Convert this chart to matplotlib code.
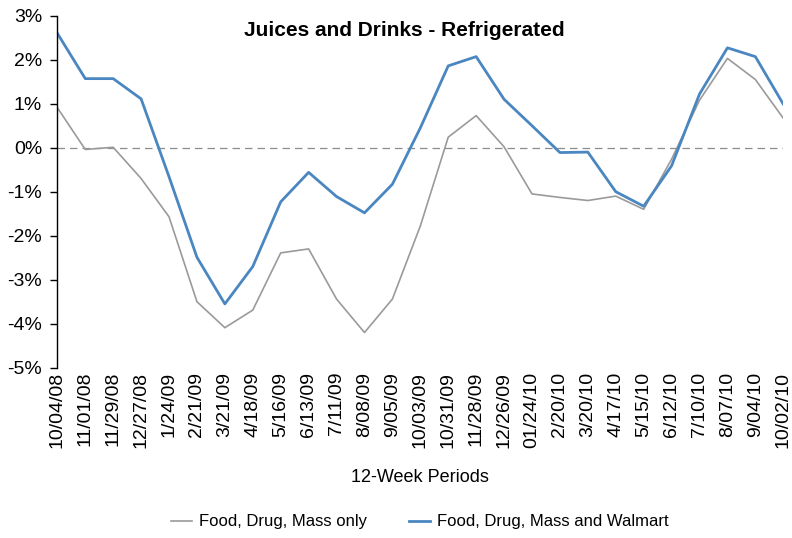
import matplotlib
matplotlib.use("Agg")
import matplotlib.pyplot as plt
from matplotlib.ticker import FuncFormatter

# 12-week period end dates
PERIODS = ["10/04/08", "11/01/08", "11/29/08", "12/27/08", "1/24/09", "2/21/09",
           "3/21/09", "4/18/09", "5/16/09", "6/13/09", "7/11/09", "8/08/09",
           "9/05/09", "10/03/09", "10/31/09", "11/28/09", "12/26/09", "01/24/10",
           "2/20/10", "3/20/10", "4/17/10", "5/15/10", "6/12/10", "7/10/10",
           "8/07/10", "9/04/10", "10/02/10"]

# % change vs year ago
FDM_ONLY = [0.91, -0.04, 0.01, -0.70, -1.57, -3.50, -4.09, -3.69, -2.39, -2.30,
            -3.44, -4.20, -3.44, -1.78, 0.24, 0.73, 0.02, -1.05, -1.13, -1.20,
            -1.10, -1.40, -0.26, 1.08, 2.03, 1.55, 0.67]
FDM_WALMART = [2.60, 1.57, 1.57, 1.11, -0.66, -2.49, -3.55, -2.70, -1.23, -0.56,
               -1.11, -1.48, -0.83, 0.45, 1.86, 2.07, 1.10, 0.50, -0.11, -0.10,
               -1.00, -1.33, -0.41, 1.22, 2.27, 2.07, 0.99]

GRAY = "#9a9a9a"
BLUE = "#4a86c0"

plt.rcParams["font.family"] = ["Liberation Sans", "DejaVu Sans"]

fig = plt.figure(figsize=(7.92, 5.38), dpi=100)
ax = fig.add_axes([0.0724, 0.3165, 0.9166, 0.6543])

x = list(range(len(PERIODS)))
ax.plot(x, FDM_ONLY, color=GRAY, linewidth=1.2, label="Food, Drug, Mass only")
ax.plot(x, FDM_WALMART, color=BLUE, linewidth=2.0, label="Food, Drug, Mass and Walmart")
ax.axhline(0, color="#8c8c8c", linestyle=(0, (6, 4)), linewidth=0.9, zorder=0)

ax.set_xlim(0, len(PERIODS) - 1)
ax.set_ylim(-5, 3)
ax.set_yticks(range(-5, 4))
ax.yaxis.set_major_formatter(FuncFormatter(lambda v, _: f"{int(v)}%"))
ax.set_xticks(x)
ax.set_xticklabels(PERIODS, rotation=90, fontsize=14)
ax.tick_params(axis="x", length=0, pad=3)
ax.tick_params(axis="y", labelsize=14, length=5, width=1, direction="out", pad=6)

for side in ["top", "right", "bottom"]:
    ax.spines[side].set_visible(False)
ax.spines["left"].set_linewidth(1)

ax.set_xlabel("12-Week Periods", fontsize=13)
ax.xaxis.label.set_va("center")
ax.xaxis.set_label_coords(0.5, -0.3105)
fig.text(0.511, 0.943, "Juices and Drinks - Refrigerated", ha="center", va="center",
         fontsize=15, fontweight="bold")

fig.legend(loc="center", bbox_to_anchor=(0.53, 0.03), ncol=2, frameon=False,
           fontsize=12, handlelength=1.3, columnspacing=2.5, handletextpad=0.4)

fig.savefig("out.png", dpi=100)
